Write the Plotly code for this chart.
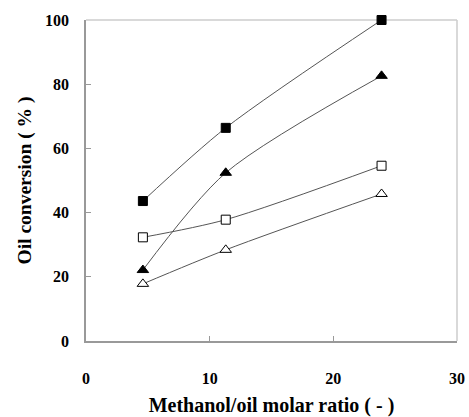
import plotly.graph_objects as go

ratio = [4.6, 11.3, 23.9]
filled_square = [43.6, 66.4, 100.0]
filled_triangle = [22.1, 52.4, 82.6]
open_square = [32.3, 37.8, 54.6]
open_triangle = [17.8, 28.4, 45.8]

x_ticks = [0, 10, 20, 30]
y_ticks = [0, 20, 40, 60, 80, 100]

series = [
    (filled_square, "square", "black"),
    (filled_triangle, "triangle-up", "black"),
    (open_square, "square", "white"),
    (open_triangle, "triangle-up", "white"),
]

fig = go.Figure()
for ys, sym, fill in series:
    fig.add_trace(go.Scatter(
        x=ratio, y=ys, mode="lines+markers", cliponaxis=False,
        line=dict(color="#555555", width=1, shape="spline", smoothing=0.8),
        marker=dict(symbol=sym, size=10 if "triangle" in sym else 9, color=fill,
                    line=dict(color="black", width=1)),
        showlegend=False,
    ))

font_family = "Liberation Serif, Times New Roman, serif"
fig.update_layout(
    width=469, height=417,
    margin=dict(l=86, r=12, t=20, b=76),
    paper_bgcolor="white", plot_bgcolor="white",
    font=dict(family=font_family, size=16, color="black"),
    xaxis=dict(
        range=[0, 30], tickvals=x_ticks, ticktext=[f"<b>{v}</b>" for v in x_ticks],
        ticks="inside", ticklen=5, tickcolor="#999999",
        showline=True, linecolor="#999999", linewidth=1.5, mirror=False,
        showgrid=False, zeroline=False, ticklabelstandoff=22, automargin=False,
        title=dict(text="<b>Methanol/oil molar ratio ( - )</b>", font=dict(size=20), standoff=13),
    ),
    yaxis=dict(
        range=[0, 100], tickvals=y_ticks, ticktext=[f"<b>{v}</b>" for v in y_ticks],
        ticks="inside", ticklen=5, tickcolor="#999999",
        showline=True, linecolor="#999999", linewidth=1.5, automargin=False,
        showgrid=False, zeroline=False, ticklabelstandoff=12,
        title=dict(text="<b>Oil conversion ( % )</b>", font=dict(size=19.5), standoff=8),
    ),
    shapes=[
        dict(type="line", xref="paper", yref="paper", x0=0, x1=1, y0=1, y1=1,
             line=dict(color="#cccccc", width=1.5), layer="below"),
        dict(type="line", xref="paper", yref="paper", x0=1, x1=1, y0=0, y1=1,
             line=dict(color="#cccccc", width=1.5), layer="below"),
    ],
)

fig.write_html("out.html")
